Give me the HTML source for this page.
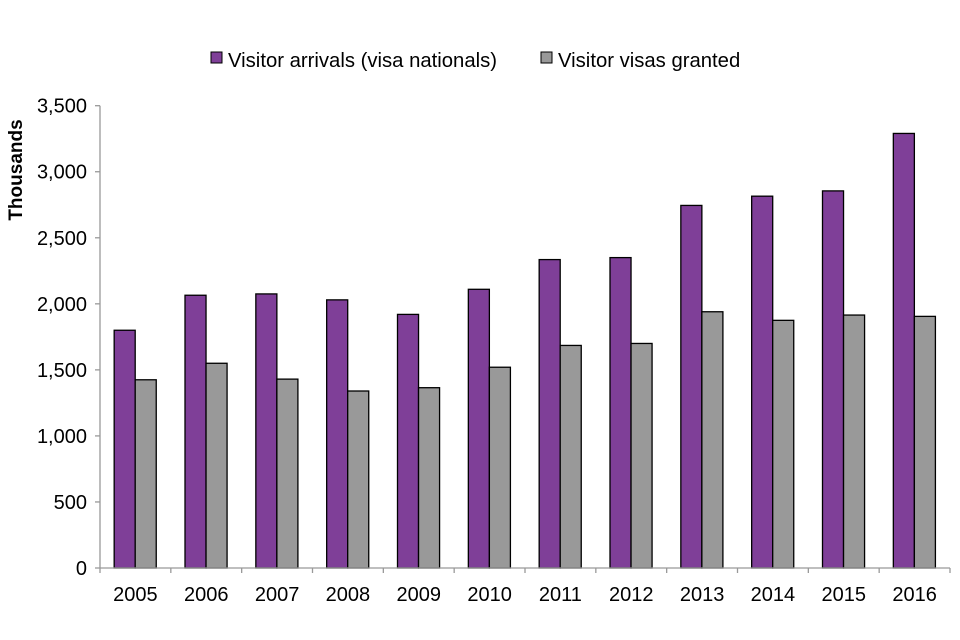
<!DOCTYPE html>
<html><head><meta charset="utf-8"><style>
body{margin:0;background:#fff;}
svg{display:block;font-family:"Liberation Sans",Arial,sans-serif;}
</style></head><body>
<svg id="chart" width="960" height="640" viewBox="0 0 960 640" xmlns="http://www.w3.org/2000/svg">
<g id="legend">
<g>
<rect x="211" y="52" width="11" height="11" fill="#7f3f98" stroke="#000" stroke-width="1"/>
<text x="228" y="67" font-size="20.3" fill="#000">Visitor arrivals (visa nationals)</text>
</g>
<g>
<rect x="541" y="52" width="11" height="11" fill="#999" stroke="#000" stroke-width="1"/>
<text x="558" y="67" font-size="20.3" fill="#000">Visitor visas granted</text>
</g>
</g>
<text transform="translate(22,170) rotate(-90)" text-anchor="middle" font-size="19" font-weight="bold">Thousands</text>
<g id="yaxis"></g>
<g id="bars"></g>
<g id="xaxis"></g>
</svg>
<script>
const categories=["2005","2006","2007","2008","2009","2010","2011","2012","2013","2014","2015","2016"];
const arrivals=[1800,2065,2075,2030,1920,2110,2335,2350,2745,2815,2855,3290];
const visas=[1425,1550,1430,1340,1365,1520,1685,1700,1940,1875,1915,1905];
const yTicks=[0,500,1000,1500,2000,2500,3000,3500];
const yTickLabels=["0","500","1,000","1,500","2,000","2,500","3,000","3,500"];

const NS="http://www.w3.org/2000/svg";
const x0=100,x1=950,yTop=105.7,yBot=568,yMax=3500;
const band=(x1-x0)/categories.length;
function yS(v){return yBot-(v/yMax)*(yBot-yTop);}
function xS(i){return x0+i*band;}
function mk(tag,attrs,parent){const e=document.createElementNS(NS,tag);for(const k in attrs)e.setAttribute(k,attrs[k]);parent.appendChild(e);return e;}
const ya=document.getElementById('yaxis'),xa=document.getElementById('xaxis'),bars=document.getElementById('bars');
const al=mk('line',{x1:x0,y1:yTop,x2:x0,y2:yBot,stroke:'#999','stroke-width':1.3},ya);


yTicks.forEach((t,i)=>{
  const y=yS(t);
  const tk=mk('line',{x1:x0-5,y1:y,x2:x0,y2:y,stroke:'#999','stroke-width':1.3},ya);
  
  
  const tx=mk('text',{x:x0-13,y:y+7,'text-anchor':'end','font-size':20},ya);
  tx.textContent=yTickLabels[i];
  
  
});
const bw=band*0.297,off=band*0.2;
categories.forEach((c,i)=>{
  const gx=xS(i);
  const b1=mk('rect',{x:gx+off,y:yS(arrivals[i]),width:bw,height:yBot-yS(arrivals[i]),fill:'#7f3f98',stroke:'#000','stroke-width':1.3},bars);
  
  
  const b2=mk('rect',{x:gx+off+bw,y:yS(visas[i]),width:bw,height:yBot-yS(visas[i]),fill:'#999',stroke:'#000','stroke-width':1.3},bars);
  
  
  const tx=mk('text',{x:gx+band/2,y:601,'text-anchor':'middle','font-size':20},xa);
  tx.textContent=c;
  
  
});
const xl=mk('line',{x1:x0,y1:yBot,x2:x1,y2:yBot,stroke:'#999','stroke-width':1.3},xa);


for(let i=0;i<=categories.length;i++){
  const tk=mk('line',{x1:xS(i),y1:yBot,x2:xS(i),y2:yBot+5,stroke:'#999','stroke-width':1.3},xa);
  
  
}
</script>
</body></html>
